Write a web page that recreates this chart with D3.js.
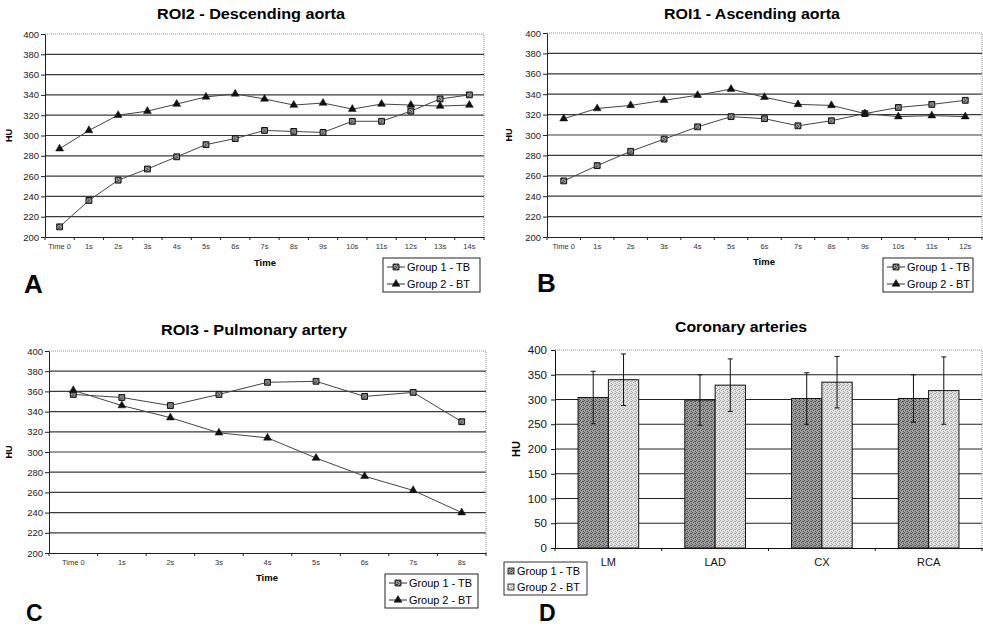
<!DOCTYPE html>
<html>
<head>
<meta charset="utf-8">
<script src="https://cdn.jsdelivr.net/npm/d3@7"></script>
<style>
  body { margin: 0; background: #fff; }
  svg { font-family: "Liberation Sans", Arial, sans-serif; display: block; }
</style>
</head>
<body>
<div id="chart"></div>
<script>
// ---- data ----
var timeA = ["Time 0", "1s", "2s", "3s", "4s", "5s", "6s", "7s", "8s", "9s", "10s", "11s", "12s", "13s", "14s"];
var roi2Group1 = [210, 236, 256, 267, 279, 291, 297, 305, 304, 303, 314, 314, 324, 336, 340];
var roi2Group2 = [287, 305, 320, 324, 331, 338, 341, 336, 330, 332, 326, 331, 330, 329, 330];

var timeB = ["Time 0", "1s", "2s", "3s", "4s", "5s", "6s", "7s", "8s", "9s", "10s", "11s", "12s"];
var roi1Group1 = [255, 270, 284, 296, 308, 318, 316, 309, 314, 321, 327, 330, 334];
var roi1Group2 = [316, 326, 329, 334, 339, 345, 337, 330, 329, 321, 318, 319, 318];

var timeC = ["Time 0", "1s", "2s", "3s", "4s", "5s", "6s", "7s", "8s"];
var roi3Group1 = [357, 354, 346, 357, 369, 370, 355, 359, 330];
var roi3Group2 = [361, 346, 334, 319, 314, 294, 276, 262, 240];

var vessels = ["LM", "LAD", "CX", "RCA"];
var coronaryGroup1 = [304, 299, 302, 302];
var coronaryGroup2 = [340, 329, 335, 318];
var coronarySd1 = [53, 51, 52, 48];
var coronarySd2 = [52, 53, 52, 68];

var huTicksLine = [200, 220, 240, 260, 280, 300, 320, 340, 360, 380, 400];
var huTicksBar = [0, 50, 100, 150, 200, 250, 300, 350, 400];
var seriesNames = ["Group 1 - TB", "Group 2 - BT"];

var svg = d3.select('#chart').append('svg')
    .attr('width', 983)
    .attr('height', 627);

// stipple fills for the bar chart
var defs = svg.append('defs');
function stipple(id, base, dot) {
    var p = defs.append('pattern')
        .attr('id', id)
        .attr('width', 4).attr('height', 4)
        .attr('patternUnits', 'userSpaceOnUse');
    p.append('rect').attr('width', 4).attr('height', 4).attr('fill', base);
    [[0, 0], [2, 1], [1, 2], [3, 3], [3, 1]].forEach(function (d) {
        p.append('rect').attr('x', d[0]).attr('y', d[1])
            .attr('width', 1).attr('height', 1).attr('fill', dot);
    });
}
stipple('dark', '#a2a2a2', '#4e4e4e');
stipple('light', '#e6e6e6', '#a4a4a4');
stipple('sq', '#9a9a9a', '#333');

var squareSym = d3.symbol(d3.symbolSquare, 34);
var triSym = d3.symbol(d3.symbolTriangle, 27);

function lineChart(c) {
    var g = svg.append('g');
    var x = d3.scaleBand().domain(c.cats).range([c.left, c.right]);
    var y = d3.scaleLinear().domain([200, 400]).range([c.bottom, c.top]);
    var half = x.bandwidth() / 2;

    // grid
    g.selectAll('line.grid')
        .data(huTicksLine.filter(function (v) { return v > 200 && v < 400; }))
        .enter().append('line')
        .attr('x1', c.left).attr('x2', c.right)
        .attr('y1', function (d) { return y(d); })
        .attr('y2', function (d) { return y(d); })
        .attr('stroke', '#3a3a3a')
        .attr('stroke-width', 1.2);
    // top / right dotted border
    g.append('path')
        .attr('d', 'M' + c.left + ',' + y(400) + 'H' + c.right + 'V' + c.bottom)
        .attr('fill', 'none')
        .attr('stroke', '#888')
        .attr('stroke-dasharray', '1,1');

    // y axis
    g.append('g')
        .attr('transform', 'translate(' + c.left + ',0)')
        .call(d3.axisLeft(y).tickValues(huTicksLine).tickSizeInner(4).tickSizeOuter(0).tickPadding(2))
        .call(function (a) {
            a.selectAll('text').attr('font-size', 9.5).attr('fill', '#222');
            a.selectAll('line, path').attr('stroke', '#222');
        });

    // x axis: labels from the band scale, ticks on band edges
    g.append('g')
        .attr('transform', 'translate(0,' + c.bottom + ')')
        .call(d3.axisBottom(x).tickSize(0).tickPadding(7))
        .call(function (a) {
            a.select('.domain').attr('stroke', '#222');
            a.selectAll('text').attr('font-size', 7.5).attr('fill', '#333');
        });
    g.selectAll('line.xt')
        .data(c.cats.concat(['_end']))
        .enter().append('line')
        .attr('x1', function (d) { return d === '_end' ? c.right : x(d); })
        .attr('x2', function (d) { return d === '_end' ? c.right : x(d); })
        .attr('y1', c.bottom).attr('y2', c.bottom + 3)
        .attr('stroke', '#222');

    var line = d3.line()
        .x(function (d, i) { return x(c.cats[i]) + half; })
        .y(function (d) { return y(d); });

    [c.s1, c.s2].forEach(function (s, k) {
        g.append('path')
            .datum(s)
            .attr('d', line)
            .attr('fill', 'none')
            .attr('stroke', '#444')
            .attr('stroke-width', 1);
        g.selectAll('path.m' + k)
            .data(s)
            .enter().append('path')
            .attr('transform', function (d, i) {
                return 'translate(' + (x(c.cats[i]) + half) + ',' + y(d) + ')';
            })
            .attr('d', k === 0 ? squareSym : triSym)
            .attr('fill', k === 0 ? 'url(#sq)' : '#111')
            .attr('stroke', '#111')
            .attr('stroke-width', k === 0 ? 1 : 0.5);
    });

    // title and axis names
    g.append('text')
        .attr('x', c.titleX).attr('y', c.titleY)
        .attr('text-anchor', 'middle')
        .attr('font-size', 14).attr('font-weight', 'bold')
        .attr('textLength', c.titleLen).attr('lengthAdjust', 'spacingAndGlyphs')
        .text(c.title);
    g.append('text')
        .attr('transform', 'translate(' + (c.huX + 3) + ',' + ((c.top + c.bottom) / 2) + ') rotate(-90)')
        .attr('text-anchor', 'middle')
        .attr('font-size', 9).attr('font-weight', 'bold')
        .text('HU');
    g.append('text')
        .attr('x', c.timeX).attr('y', c.timeY)
        .attr('text-anchor', 'middle')
        .attr('font-size', 9.5).attr('font-weight', 'bold')
        .text('Time');

    // legend
    var lg = g.append('g').attr('transform', 'translate(' + c.lx + ',' + c.ly + ')');
    lg.append('rect')
        .attr('width', c.lw).attr('height', 34)
        .attr('fill', '#fff').attr('stroke', '#222');
    seriesNames.forEach(function (name, k) {
        var yy = 9 + k * 17;
        lg.append('line')
            .attr('x1', 4).attr('x2', 22).attr('y1', yy).attr('y2', yy)
            .attr('stroke', '#333');
        lg.append('path')
            .attr('transform', 'translate(13,' + yy + ')')
            .attr('d', k === 0 ? squareSym : triSym)
            .attr('fill', k === 0 ? 'url(#sq)' : '#111')
            .attr('stroke', '#111').attr('stroke-width', k === 0 ? 1 : 0.5);
        lg.append('text')
            .attr('x', 24).attr('y', yy + 4)
            .attr('font-size', 11)
            .attr('textLength', 63).attr('lengthAdjust', 'spacingAndGlyphs')
            .text(name);
    });

    g.append('text')
        .attr('x', c.letterX).attr('y', c.letterY)
        .attr('font-size', c.letterSize || 26).attr('font-weight', 'bold')
        .text(c.letter);
}

lineChart({
    cats: timeA, s1: roi2Group1, s2: roi2Group2,
    left: 45, right: 484, top: 34, bottom: 237,
    title: 'ROI2 - Descending aorta', titleX: 251, titleY: 19, titleLen: 188,
    huX: 9, timeX: 265, timeY: 266,
    lx: 383, ly: 258, lw: 97,
    letter: 'A', letterX: 24, letterY: 293
});
lineChart({
    cats: timeB, s1: roi1Group1, s2: roi1Group2,
    left: 547, right: 982, top: 33, bottom: 237,
    title: 'ROI1 - Ascending aorta', titleX: 752, titleY: 19, titleLen: 176,
    huX: 509, timeX: 764, timeY: 265,
    lx: 883, ly: 258, lw: 90,
    letter: 'B', letterX: 537, letterY: 292
});
lineChart({
    cats: timeC, s1: roi3Group1, s2: roi3Group2,
    left: 49, right: 486, top: 351, bottom: 553,
    title: 'ROI3 - Pulmonary artery', titleX: 254, titleY: 335, titleLen: 186,
    huX: 9, timeX: 267, timeY: 581,
    lx: 385, ly: 574, lw: 93,
    letter: 'C', letterX: 26, letterY: 621, letterSize: 23
});

// ---- D: coronary arteries bar chart ----
(function () {
    var left = 555, right = 982, top = 350, bottom = 548;
    var g = svg.append('g');
    var x = d3.scaleBand().domain(vessels).range([left, right]);
    var x1 = d3.scaleBand().domain([0, 1]).range([0, x.bandwidth()]).paddingOuter(0.76);
    var y = d3.scaleLinear().domain([0, 400]).range([bottom, top]);

    g.selectAll('line.grid')
        .data(huTicksBar.filter(function (v) { return v > 0 && v < 400; }))
        .enter().append('line')
        .attr('x1', left).attr('x2', right)
        .attr('y1', function (d) { return y(d); })
        .attr('y2', function (d) { return y(d); })
        .attr('stroke', '#222').attr('stroke-width', 1.1);
    g.append('path')
        .attr('d', 'M' + left + ',' + y(400) + 'H' + right + 'V' + bottom)
        .attr('fill', 'none').attr('stroke', '#888')
        .attr('stroke-dasharray', '1,1');

    var groups = [
        { v: coronaryGroup1, sd: coronarySd1, fill: 'url(#dark)' },
        { v: coronaryGroup2, sd: coronarySd2, fill: 'url(#light)' }
    ];
    groups.forEach(function (s, k) {
        g.selectAll('rect.b' + k)
            .data(s.v)
            .enter().append('rect')
            .attr('x', function (d, i) { return x(vessels[i]) + x1(k); })
            .attr('width', x1.bandwidth())
            .attr('y', function (d) { return y(d); })
            .attr('height', function (d) { return bottom - y(d); })
            .attr('fill', s.fill)
            .attr('stroke', '#111').attr('stroke-width', 1);
    });
    groups.forEach(function (s, k) {
        s.v.forEach(function (d, i) {
            var cx = x(vessels[i]) + x1(k) + x1.bandwidth() / 2;
            var hi = y(d + s.sd[i]), lo = y(d - s.sd[i]);
            g.append('line').attr('x1', cx).attr('x2', cx).attr('y1', hi).attr('y2', lo)
                .attr('stroke', '#111');
            [hi, lo].forEach(function (yy) {
                g.append('line').attr('x1', cx - 2.5).attr('x2', cx + 2.5)
                    .attr('y1', yy).attr('y2', yy).attr('stroke', '#111');
            });
        });
    });

    g.append('g')
        .attr('transform', 'translate(' + left + ',0)')
        .call(d3.axisLeft(y).tickValues(huTicksBar).tickSizeInner(4).tickSizeOuter(0).tickPadding(4))
        .call(function (a) {
            a.selectAll('text').attr('font-size', 11.5).attr('fill', '#111');
            a.selectAll('line, path').attr('stroke', '#111');
        });
    g.append('g')
        .attr('transform', 'translate(0,' + bottom + ')')
        .call(d3.axisBottom(x).tickSize(0).tickPadding(10))
        .call(function (a) {
            a.select('.domain').attr('stroke', '#111');
            a.selectAll('text').attr('font-size', 11).attr('fill', '#111');
        });
    g.selectAll('line.xt')
        .data(vessels.concat(['_end']))
        .enter().append('line')
        .attr('x1', function (d) { return d === '_end' ? right : x(d); })
        .attr('x2', function (d) { return d === '_end' ? right : x(d); })
        .attr('y1', bottom).attr('y2', bottom + 3)
        .attr('stroke', '#111');

    g.append('text')
        .attr('x', 741).attr('y', 332)
        .attr('text-anchor', 'middle')
        .attr('font-size', 14).attr('font-weight', 'bold')
        .attr('textLength', 132).attr('lengthAdjust', 'spacingAndGlyphs')
        .text('Coronary arteries');
    g.append('text')
        .attr('transform', 'translate(520,' + ((top + bottom) / 2) + ') rotate(-90)')
        .attr('text-anchor', 'middle')
        .attr('font-size', 11).attr('font-weight', 'bold')
        .text('HU');

    var lg = g.append('g').attr('transform', 'translate(504,562)');
    lg.append('rect').attr('width', 83).attr('height', 33)
        .attr('fill', '#fff').attr('stroke', '#333');
    seriesNames.forEach(function (name, k) {
        var yy = 9 + k * 16;
        lg.append('rect')
            .attr('x', 4).attr('y', yy - 3).attr('width', 6).attr('height', 6)
            .attr('fill', groups[k].fill).attr('stroke', '#111').attr('stroke-width', 0.8);
        lg.append('text')
            .attr('x', 13).attr('y', yy + 4)
            .attr('font-size', 11)
            .attr('textLength', 63).attr('lengthAdjust', 'spacingAndGlyphs')
            .text(name);
    });

    g.append('text')
        .attr('x', 539).attr('y', 621)
        .attr('font-size', 23).attr('font-weight', 'bold')
        .text('D');
})();
</script>
</body>
</html>
